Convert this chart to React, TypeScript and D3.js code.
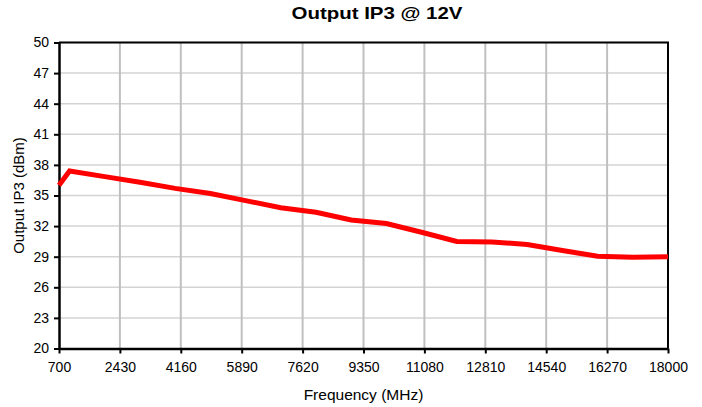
import { useEffect, useRef } from "react";
import * as d3 from "d3";

// frequency points (MHz) and measured output IP3 (dBm)
const freqs = [700, 1000, 2000, 3000, 4000, 5000, 6000, 7000, 8000, 9000, 10000, 11000, 12000, 13000, 14000, 15000, 16000, 17000, 18000];
const ip3 = [36.0, 37.4, 36.85, 36.3, 35.7, 35.2, 34.5, 33.8, 33.35, 32.6, 32.25, 31.4, 30.5, 30.45, 30.2, 29.6, 29.05, 28.95, 29.0];

const xTicks = [700, 2430, 4160, 5890, 7620, 9350, 11080, 12810, 14540, 16270, 18000];
const yTicks = [20, 23, 26, 29, 32, 35, 38, 41, 44, 47, 50];

const W = 702;
const H = 407;
const FONT = "'Liberation Sans', Arial, sans-serif";

const App = () => {
    const svgRef = useRef<SVGSVGElement | null>(null);

    useEffect(() => {
        const svg = d3.select(svgRef.current);
        svg.selectAll("*").remove();

        const margin = { top: 42.5, right: 34, bottom: 58.5, left: 59 };
        const innerWidth = W - margin.left - margin.right;
        const innerHeight = H - margin.top - margin.bottom;

        const x = d3.scaleLinear().domain([700, 18000]).range([0, innerWidth]);
        const y = d3.scaleLinear().domain([20, 50]).range([innerHeight, 0]);

        const g = svg.append("g")
            .attr("transform", `translate(${margin.left},${margin.top})`);

        // horizontal grid
        g.selectAll(".hgrid")
            .data(yTicks.slice(1))
            .enter()
            .append("line")
            .attr("x1", 0)
            .attr("x2", innerWidth)
            .attr("y1", d => y(d))
            .attr("y2", d => y(d))
            .attr("stroke", "#d3d3d3")
            .attr("stroke-width", 1.5);

        // vertical grid
        g.selectAll(".vgrid")
            .data(xTicks.slice(1, -1))
            .enter()
            .append("line")
            .attr("x1", d => x(d))
            .attr("x2", d => x(d))
            .attr("y1", 0)
            .attr("y2", innerHeight)
            .attr("stroke", "#c0c0c0")
            .attr("stroke-width", 2);

        // top and right frame
        g.append("path")
            .attr("d", `M0,0H${innerWidth}V${innerHeight}`)
            .attr("fill", "none")
            .attr("stroke", "#000")
            .attr("stroke-width", 2);

        const yAxis = g.append("g")
            .call(d3.axisLeft(y).tickValues(yTicks).tickSize(5).tickSizeOuter(0).tickPadding(5));
        const xAxis = g.append("g")
            .attr("transform", `translate(0,${innerHeight})`)
            .call(d3.axisBottom(x).tickValues(xTicks).tickSize(5).tickSizeOuter(0).tickPadding(9).tickFormat(d3.format("d")));

        [yAxis, xAxis].forEach(a => {
            a.select(".domain").attr("stroke", "#000").attr("stroke-width", 2.5);
            a.selectAll(".tick line").attr("stroke", "#000").attr("stroke-width", 2);
            a.selectAll(".tick text")
                .attr("font-family", FONT)
                .attr("font-size", 14)
                .attr("fill", "#000");
        });

        const line = d3.line<number>()
            .x((_, i) => x(freqs[i]))
            .y(d => y(d));

        g.append("path")
            .datum(ip3)
            .attr("d", line)
            .attr("fill", "none")
            .attr("stroke", "#ff0000")
            .attr("stroke-width", 5)
            .attr("stroke-linejoin", "miter");

        svg.append("text")
            .attr("x", 377)
            .attr("y", 19)
            .attr("text-anchor", "middle")
            .attr("font-family", FONT)
            .attr("font-weight", "bold")
            .attr("font-size", 17)
            .attr("textLength", 171)
            .attr("lengthAdjust", "spacingAndGlyphs")
            .text("Output IP3 @ 12V");

        svg.append("text")
            .attr("x", margin.left + innerWidth / 2)
            .attr("y", 400)
            .attr("text-anchor", "middle")
            .attr("font-family", FONT)
            .attr("font-size", 15.5)
            .text("Frequency (MHz)");

        svg.append("text")
            .attr("transform", `translate(24,${margin.top + innerHeight / 2}) rotate(-90)`)
            .attr("text-anchor", "middle")
            .attr("font-family", FONT)
            .attr("font-size", 15)
            .text("Output IP3 (dBm)");
    }, []);

    return (
        <svg ref={svgRef} width={W} height={H}
            style={{ position: "absolute", left: 0, top: 0, background: "#fff" }} />
    );
};

export default App;
